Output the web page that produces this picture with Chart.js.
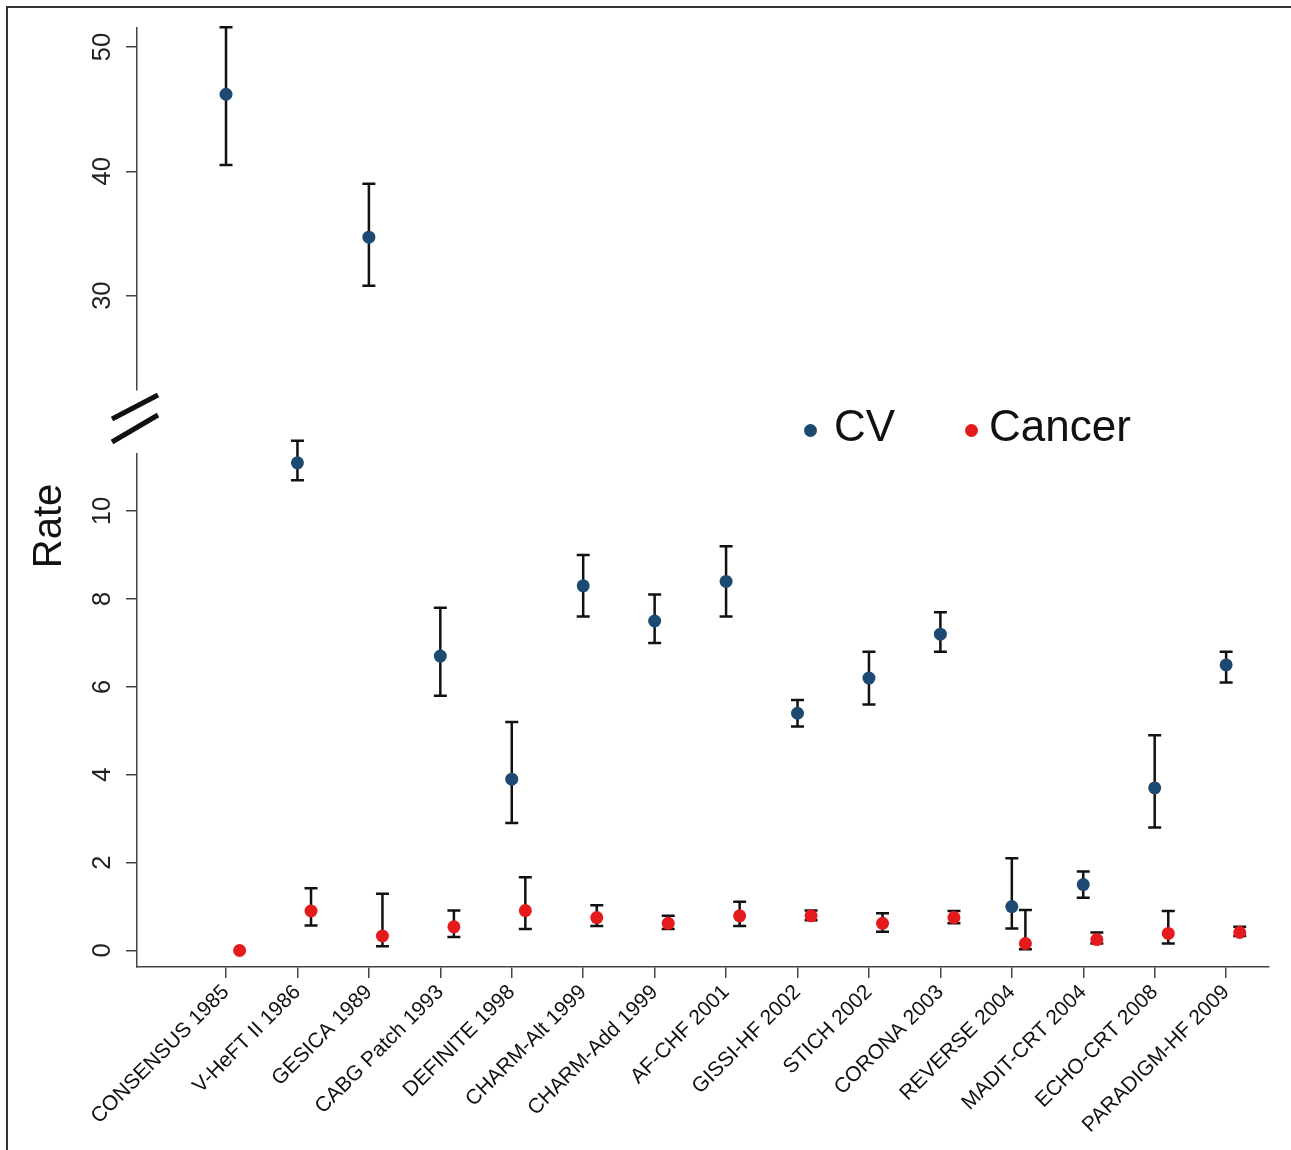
<!DOCTYPE html>
<html>
<head>
<meta charset="utf-8">
<script src="https://cdn.jsdelivr.net/npm/chart.js@4.4.1/dist/chart.umd.min.js"></script>
<style>
    html, body { margin: 0; padding: 0; background: #fff; }
    body { width: 1291px; height: 1150px; position: relative; overflow: hidden; font-family: Arial, "Liberation Sans", sans-serif; }
    #frame { position: absolute; left: 6px; top: 6px; width: 1300px; height: 1160px; border-left: 2px solid #333; border-top: 2px solid #333; }
    canvas { position: absolute; left: 0; }
    #topChart { top: 0; }
    #bottomChart { top: 380px; }
    .legend-dot { position: absolute; width: 13px; height: 13px; border-radius: 50%; }
    .legend-text { position: absolute; font-size: 44px; line-height: 1; color: #111; white-space: nowrap; }
    #rateTitle { position: absolute; left: -53px; top: 506px; width: 200px; height: 40px; font-size: 40px; line-height: 1; text-align: center; color: #111; transform: rotate(-90deg); }
</style>
</head>
<body>
<div id="frame"></div>
<canvas id="topChart" width="1291" height="400"></canvas>
<canvas id="bottomChart" width="1291" height="770"></canvas>
<div id="rateTitle">Rate</div>
<div class="legend-dot" style="left:804px; top:424px; background:#1d4a72;"></div>
<div class="legend-text" style="left:834px; top:404px;">CV</div>
<div class="legend-dot" style="left:965px; top:424px; background:#e41a1c;"></div>
<div class="legend-text" style="left:989px; top:404px;">Cancer</div>

<script>
/* ===============================
   DATA
=================================*/

const trials = [
    "CONSENSUS 1985", "V-HeFT II 1986", "GESICA 1989", "CABG Patch 1993",
    "DEFINITE 1998", "CHARM-Alt 1999", "CHARM-Add 1999", "AF-CHF 2001",
    "GISSI-HF 2002", "STICH 2002", "CORONA 2003", "REVERSE 2004",
    "MADIT-CRT 2004", "ECHO-CRT 2008", "PARADIGM-HF 2009"
];

const cvRate = [46.2, 11.1, 34.7, 6.7, 3.9, 8.3, 7.5, 8.4, 5.4, 6.2, 7.2, 1.0, 1.5, 3.7, 6.5];
const cvLow  = [40.5, 10.7, 30.8, 5.8, 2.9, 7.6, 7.0, 7.6, 5.1, 5.6, 6.8, 0.5, 1.2, 2.8, 6.1];
const cvHigh = [51.6, 11.6, 39.0, 7.8, 5.2, 9.0, 8.1, 9.2, 5.7, 6.8, 7.7, 2.1, 1.8, 4.9, 6.8];

const cancerRate = [0.0, 0.90, 0.33, 0.54, 0.91, 0.75, 0.62, 0.79, 0.79, 0.62, 0.75, 0.16, 0.25, 0.39, 0.41];
const cancerLow  = [0.0, 0.57, 0.10, 0.31, 0.49, 0.56, 0.49, 0.56, 0.69, 0.43, 0.62, 0.03, 0.16, 0.16, 0.33];
const cancerHigh = [0.0, 1.42, 1.29, 0.91, 1.67, 1.03, 0.79, 1.11, 0.91, 0.85, 0.90, 0.92, 0.41, 0.90, 0.54];

const upperTicks = [30, 40, 50];
const lowerTicks = [0, 2, 4, 6, 8, 10];

/* ===============================
   STYLE
=================================*/

const FONT = 'Arial, "Liberation Sans", sans-serif';
const CV_COLOR = "#1d4a72";
const CANCER_COLOR = "#e41a1c";
const AXIS_COLOR = "#444";
const CANCER_SHIFT = 0.19;

/* ===============================
   HELPERS
=================================*/

function points(rates, lows, highs, shift) {
    return rates.map((v, i) => ({ x: i + shift, y: v, lo: lows[i], hi: highs[i] }));
}

const errorBars = {
    id: "errorBars",
    beforeDatasetsDraw(chart) {
        const { ctx, scales: { x, y } } = chart;
        ctx.save();
        ctx.strokeStyle = "#111";
        ctx.lineWidth = 2.5;
        chart.data.datasets.forEach(ds => {
            ds.data.forEach(p => {
                if (p.y < y.min || p.y > y.max || p.lo === p.hi) return;
                const px = x.getPixelForValue(p.x);
                const top = y.getPixelForValue(p.hi);
                const bot = y.getPixelForValue(p.lo);
                ctx.beginPath();
                ctx.moveTo(px, top); ctx.lineTo(px, bot);
                ctx.moveTo(px - 6.5, top); ctx.lineTo(px + 6.5, top);
                ctx.moveTo(px - 6.5, bot); ctx.lineTo(px + 6.5, bot);
                ctx.stroke();
            });
        });
        ctx.restore();
    }
};

// the "//" mark between the two axis segments
const axisBreak = {
    id: "axisBreak",
    afterDraw(chart) {
        const ctx = chart.ctx;
        ctx.save();
        ctx.strokeStyle = "#111";
        ctx.lineWidth = 5;
        ctx.beginPath();
        ctx.moveTo(112, 39); ctx.lineTo(158, 15);
        ctx.moveTo(112, 62); ctx.lineTo(158, 35);
        ctx.stroke();
        ctx.restore();
    }
};

function yAxis(min, max, tickValues) {
    return {
        min, max,
        afterFit(s) {
            s.width = 137;
            s.paddingTop = 0;
            s.paddingBottom = 0;
        },
        afterBuildTicks(s) { s.ticks = tickValues.map(v => ({ value: v })); },
        border: { display: true, color: AXIS_COLOR, width: 1.5 },
        grid: { display: true, drawOnChartArea: false, drawTicks: true, tickLength: 11, color: AXIS_COLOR, lineWidth: 1.5 },
        ticks: { minRotation: 90, maxRotation: 90, crossAlign: "center", padding: 9, color: "#222", font: { size: 25.5, family: FONT } }
    };
}

function xAxis(show) {
    return {
        type: "linear",
        min: -1.246,
        max: 14.6,
        display: show,
        afterBuildTicks(s) { s.ticks = trials.map((_, i) => ({ value: i })); },
        afterFit(s) { if (show) s.height = 183; },
        border: { display: true, color: AXIS_COLOR, width: 1.5 },
        grid: { display: true, drawOnChartArea: false, drawTicks: true, tickLength: 11, color: AXIS_COLOR, lineWidth: 1.5 },
        ticks: {
            autoSkip: false, minRotation: 45, maxRotation: 45, padding: 2,
            color: "#111", font: { size: 21, family: FONT },
            callback: v => trials[v] ?? ""
        }
    };
}

function datasets() {
    return [
        { label: "CV", data: points(cvRate, cvLow, cvHigh, 0), pointRadius: 6.5, pointBackgroundColor: CV_COLOR, pointBorderWidth: 0, showLine: false },
        { label: "Cancer", data: points(cancerRate, cancerLow, cancerHigh, CANCER_SHIFT), pointRadius: 6.5, pointBackgroundColor: CANCER_COLOR, pointBorderWidth: 0, showLine: false }
    ];
}

const baseOptions = {
    responsive: false,
    animation: false,
    events: [],
    plugins: { legend: { display: false }, tooltip: { enabled: false } }
};

/* ===============================
   CHARTS
=================================*/

new Chart(document.getElementById("topChart"), {
    type: "scatter",
    data: { datasets: datasets() },
    options: {
        ...baseOptions,
        layout: { autoPadding: false, padding: { top: 28, bottom: 10, left: 0, right: 22 } },
        scales: { x: xAxis(false), y: yAxis(22.41, 51.53, upperTicks) }
    },
    plugins: [errorBars]
});

new Chart(document.getElementById("bottomChart"), {
    type: "scatter",
    data: { datasets: datasets() },
    options: {
        ...baseOptions,
        layout: { autoPadding: false, padding: { top: 74, bottom: 0, left: 0, right: 22 } },
        scales: { x: xAxis(true), y: yAxis(-0.375, 11.3, lowerTicks) }
    },
    plugins: [errorBars, axisBreak]
});
</script>
</body>
</html>
